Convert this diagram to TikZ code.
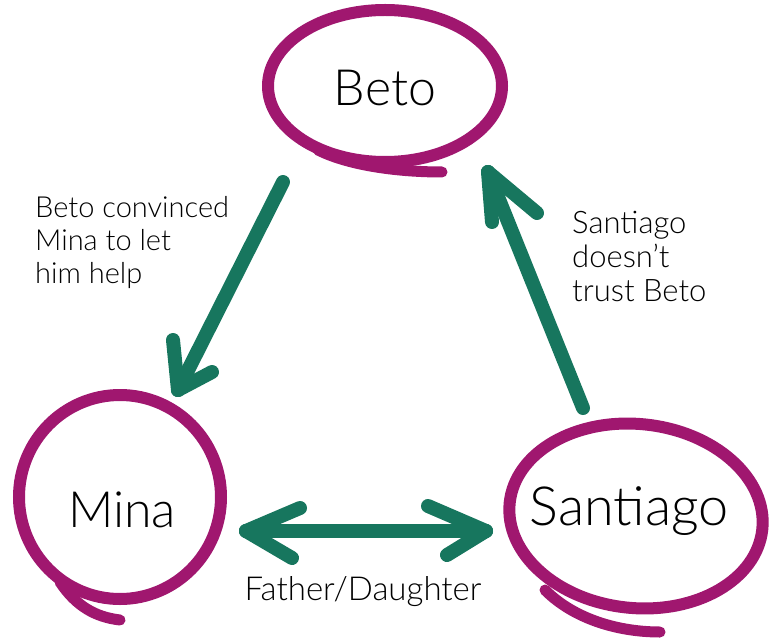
\documentclass[tikz,border=0pt]{standalone}
\usepackage{fontspec}
\setmainfont{Lato Light}
\usetikzlibrary{shapes.geometric}
\definecolor{plumc}{HTML}{A0176F}
\definecolor{tealc}{HTML}{17765E}
\tikzset{
  person/.style={ellipse, draw=plumc, line width=12pt, inner sep=0pt},
  tailstroke/.style={draw=plumc, line width=11pt, line cap=round},
  pname/.style={font=\fontsize{50}{60}\selectfont, text=black},
  lbl/.style={font=\fontsize{29}{33}\selectfont, align=left, inner sep=0pt, anchor=north west},
  relarrow/.style={draw=tealc, line width=14pt, line cap=round, line join=round},
}
\begin{document}
\begin{tikzpicture}[x=1pt,y=-1pt]
\useasboundingbox (0,0) rectangle (778,644);
% people
\node[person, minimum width=234pt, minimum height=152pt] (beto) at (385,86) {};
\node[person, minimum width=202pt, minimum height=204pt] (mina) at (120,497) {};
\node[person, minimum width=254pt, minimum height=184pt, rotate=-6] (sant) at (636,516) {};
\node[pname] (betot) at (385,88) {Beto};
\node[pname] (minat) at (122,510) {Mina};
\node[pname, font=\fontsize{54}{60}\selectfont] (santt) at (629,511) {Santiago};
% brush overshoot strokes
\draw[tailstroke] (318,150) .. controls (350,166) and (400,172) .. (442,172);
\draw[tailstroke] (60,582) .. controls (76,606) and (95,617) .. (120,620);
\draw[tailstroke] (545,590) .. controls (575,620) and (620,632) .. (660,632);
% arrow endpoints
\coordinate (a1s) at (283,182);
\coordinate (a1t) at (178,390);
\coordinate (a2s) at (583,408);
\coordinate (a2t) at (488,172);
\coordinate (a3l) at (246,531);
\coordinate (a3r) at (486,531);
% Beto -> Mina
\draw[relarrow] (a1s) -- (a1t);
\draw[relarrow] (a1t) -- +(-5,-50);
\draw[relarrow] (a1t) -- +(34,-18);
% Santiago -> Beto
\draw[relarrow] (a2s) -- (a2t);
\draw[relarrow] (a2t) -- +(4,50);
\draw[relarrow] (a2t) -- +(49,41);
% Mina <-> Santiago
\draw[relarrow] (a3l) -- (a3r);
\draw[relarrow] (a3l) -- +(54,-23);
\draw[relarrow] (a3l) -- +(46,27);
\draw[relarrow] (a3r) -- +(-58,-25);
\draw[relarrow] (a3r) -- +(-39,24);
% labels
\node[lbl] (l1) at (35,196) {Beto convinced\\Mina to let\\him help};
\node[lbl, font=\fontsize{31}{34}\selectfont] (l2) at (572,211) {Santiago\\doesn’t\\trust Beto};
\node[font=\fontsize{33}{36}\selectfont, anchor=base] (l3) at (363,600) {Father/Daughter};
\end{tikzpicture}
\end{document}
